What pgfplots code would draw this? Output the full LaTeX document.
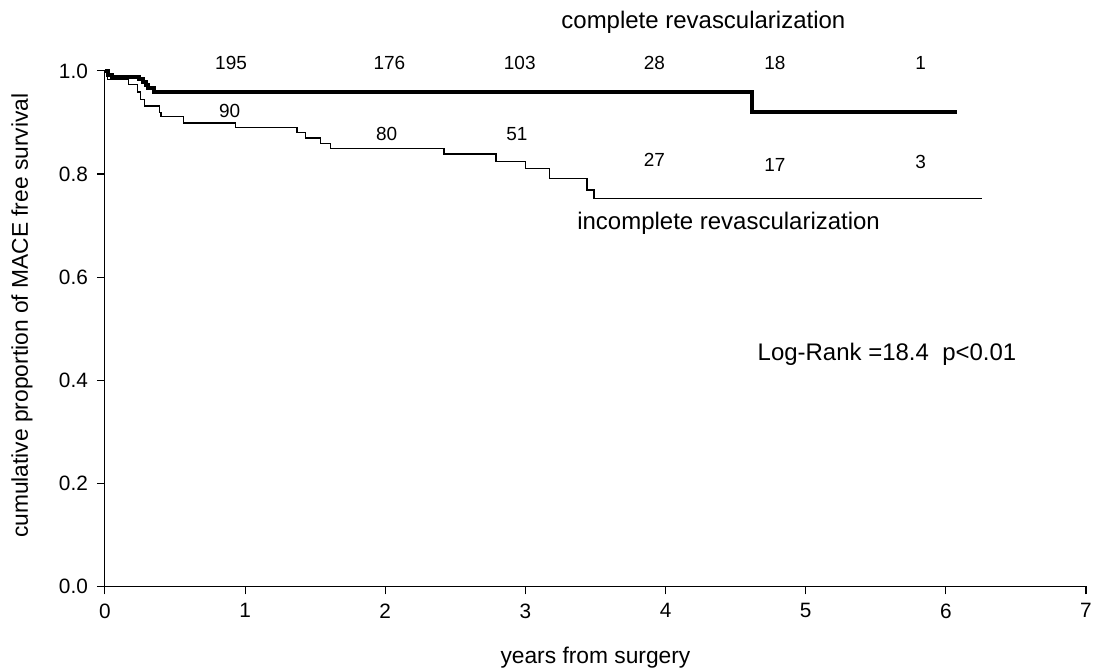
\documentclass[border=0pt]{standalone}
\usepackage{fontspec}
\setmainfont{Liberation Sans}
\usepackage{pgfplots}
\pgfplotsset{compat=1.18}

\begin{document}
\begin{tikzpicture}
\begin{axis}[
    scale only axis,
    width=491pt, height=258pt,
    xmin=0, xmax=7, ymin=0, ymax=1,
    axis lines*=left,
    axis line style={line width=0.55pt},
    tick align=outside,
    tick style={black, line width=0.55pt},
    major tick length=4pt,
    xtick={0,1,...,7},
    ytick={0,0.2,...,1.0},
    yticklabel style={/pgf/number format/fixed, /pgf/number format/precision=1, /pgf/number format/fixed zerofill},
    /pgf/number format/assume math mode=true,
    ticklabel style={font=\fontsize{10.4}{12}\selectfont},
    xticklabel style={yshift=-1pt},
    yticklabel style={xshift=-1pt},
    xlabel={years from surgery},
    ylabel={cumulative proportion of MACE free survival},
    label style={font=\fontsize{11.4}{13}\selectfont},
    xlabel style={at={(axis description cs:0.5,0)}, anchor=center, yshift=-35.5pt},
    ylabel style={at={(axis description cs:0,0.5)}, anchor=center, yshift=41.5pt, xshift=6.5pt},
    clip=false,
]
% complete revascularization
\addplot[const plot, black, line width=2pt] coordinates {
(0,1.0) (0.02,0.993) (0.05,0.988) (0.24,0.985) (0.27,0.978) (0.29,0.972)
(0.31,0.966) (0.35,0.960) (4.62,0.920) (6.08,0.920)
};
% incomplete revascularization
\addplot[const plot, black, line width=0.6pt] coordinates {
(0,1.0) (0.02,0.983) (0.17,0.973) (0.23,0.959) (0.255,0.944) (0.28,0.932)
(0.39,0.920) (0.40,0.911) (0.56,0.899) (0.93,0.891) (1.37,0.880) (1.43,0.870)
(1.54,0.860) (1.61,0.849) (2.42,0.839) (2.79,0.824) (3.00,0.810) (3.17,0.791)
(3.44,0.769) (3.49,0.752) (6.26,0.752)
};
\coordinate (ll) at (rel axis cs:0,0);
\coordinate (ur) at (rel axis cs:1,1);
\node[font=\fontsize{12}{14}\selectfont] at (axis cs:4.27,1.095) {complete revascularization};
\node[font=\fontsize{12}{14}\selectfont] at (axis cs:4.45,0.705) {incomplete revascularization};
\node[font=\fontsize{12}{14}\selectfont] at (axis cs:5.58,0.45) {Log-Rank =18.4\ \ p<0.01};
\begin{scope}[every node/.style={font=\fontsize{9.5}{11}\selectfont}]
\node at (axis cs:0.90,1.016) {195};
\node at (axis cs:2.03,1.016) {176};
\node at (axis cs:2.96,1.016) {103};
\node at (axis cs:3.92,1.016) {28};
\node at (axis cs:4.78,1.016) {18};
\node at (axis cs:5.82,1.016) {1};
\node at (axis cs:0.89,0.923) {90};
\node at (axis cs:2.01,0.878) {80};
\node at (axis cs:2.94,0.878) {51};
\node at (axis cs:3.92,0.827) {27};
\node at (axis cs:4.78,0.818) {17};
\node at (axis cs:5.82,0.823) {3};
\end{scope}
\end{axis}
\pgfresetboundingbox
\path ([xshift=-52.5pt,yshift=-42pt]ll) rectangle ([xshift=3.5pt,yshift=35.5pt]ur);
\end{tikzpicture}
\end{document}
